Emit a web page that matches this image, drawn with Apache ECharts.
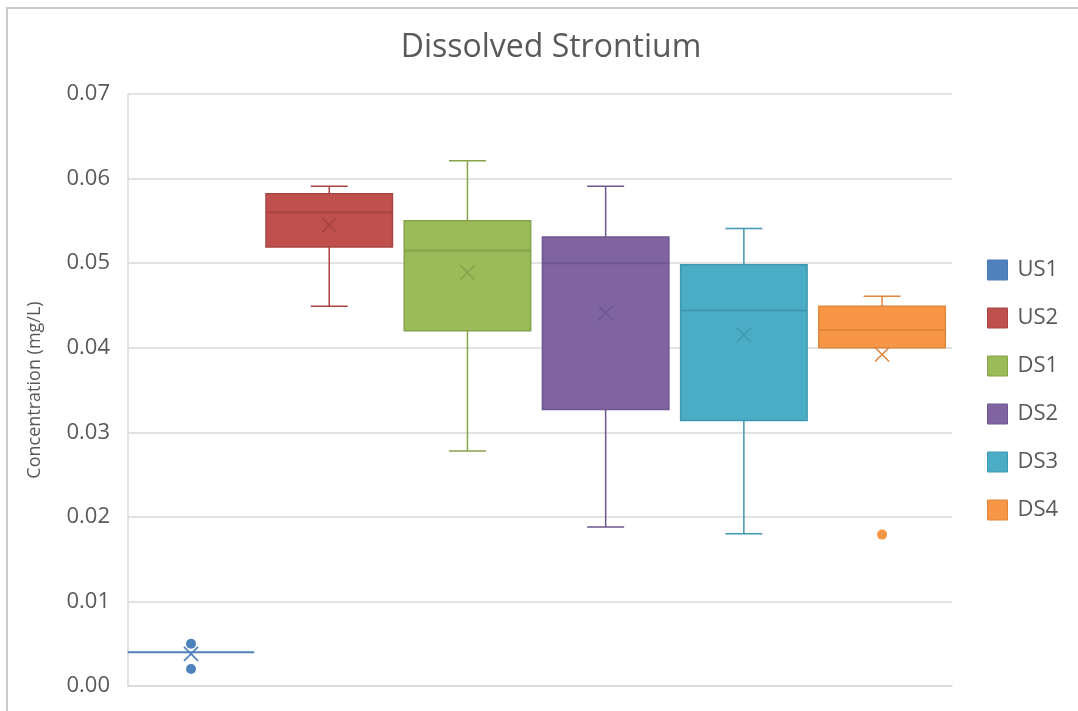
<!DOCTYPE html>
<html>
<head>
<meta charset="utf-8">
<script src="https://cdn.jsdelivr.net/npm/echarts@6/dist/echarts.min.js"></script>
<style>
html,body{margin:0;padding:0;background:#fff;}
#chart{width:1078px;height:711px;}
</style>
</head>
<body>
<div id="chart"></div>
<script>
// ---- data ----
const groups = ['US1', 'US2', 'DS1', 'DS2', 'DS3', 'DS4'];
const minVals    = [0.0040, 0.0449, 0.0278, 0.0188, 0.0180, 0.0400];
const q1Vals     = [0.0040, 0.0519, 0.0420, 0.0327, 0.0314, 0.0400];
const medianVals = [0.0040, 0.0560, 0.0515, 0.0500, 0.0444, 0.0421];
const q3Vals     = [0.0040, 0.0582, 0.0550, 0.0531, 0.0498, 0.0449];
const maxVals    = [0.0040, 0.0591, 0.0621, 0.0591, 0.0541, 0.0461];
const meanVals   = [0.0038, 0.0545, 0.0489, 0.0441, 0.0415, 0.0392];
const outlierGroup = [0, 0, 5];
const outlierVals  = [0.0050, 0.0020, 0.0179];
const yTicks = [0, 0.01, 0.02, 0.03, 0.04, 0.05, 0.06, 0.07];

// ---- styles ----
const fills   = ['#4F81BD', '#C0504D', '#9BBB59', '#8064A2', '#4BACC6', '#F79646'];
const strokes = ['#4A7AB5', '#A84542', '#86A24B', '#6E5690', '#3F98AF', '#E0853A'];
const textColor = '#595959';
const gridColor = '#D9D9D9';
const FONT = '"Open Sans", "Noto Sans", sans-serif';

function makeRender(idx) {
  return function (params, api) {
    const cat = api.value(0);
    const band = api.size([1, 0])[0];
    const bw = band * 0.915;
    const cap = 37;
    const x = api.coord([cat, 0])[0];
    const Y = v => api.coord([cat, v])[1];
    const mn = api.value(1), q1 = api.value(2), md = api.value(3),
          q3 = api.value(4), mx = api.value(5), mean = api.value(6);
    const st = strokes[idx];
    const lineStyle = { stroke: st, lineWidth: 1.5 };
    const children = [];
    if (mx > q3) {
      children.push({ type: 'line', shape: { x1: x, y1: Y(q3), x2: x, y2: Y(mx) }, style: lineStyle });
      children.push({ type: 'line', shape: { x1: x - cap / 2, y1: Y(mx), x2: x + cap / 2, y2: Y(mx) }, style: lineStyle });
    }
    if (mn < q1) {
      children.push({ type: 'line', shape: { x1: x, y1: Y(q1), x2: x, y2: Y(mn) }, style: lineStyle });
      children.push({ type: 'line', shape: { x1: x - cap / 2, y1: Y(mn), x2: x + cap / 2, y2: Y(mn) }, style: lineStyle });
    }
    if (q3 > q1) {
      children.push({ type: 'rect', shape: { x: x - bw / 2, y: Y(q3), width: bw, height: Y(q1) - Y(q3) },
        style: { fill: fills[idx], stroke: st, lineWidth: 1.5 } });
    }
    children.push({ type: 'line', shape: { x1: x - bw / 2, y1: Y(md), x2: x + bw / 2, y2: Y(md) },
      style: { stroke: q3 > q1 ? st : fills[idx], lineWidth: 2 } });
    const h = 7;
    const ym = Y(mean);
    const xs = { stroke: q3 > q1 ? st : fills[idx], lineWidth: 1.6 };
    children.push({ type: 'line', shape: { x1: x - h, y1: ym - h, x2: x + h, y2: ym + h }, style: xs });
    children.push({ type: 'line', shape: { x1: x - h, y1: ym + h, x2: x + h, y2: ym - h }, style: xs });
    return { type: 'group', children: children };
  };
}

const series = groups.map((g, i) => ({
  name: g,
  type: 'custom',
  itemStyle: { color: fills[i] },
  renderItem: makeRender(i),
  encode: { x: 0, y: [1, 2, 3, 4, 5, 6] },
  data: [[i, minVals[i], q1Vals[i], medianVals[i], q3Vals[i], maxVals[i], meanVals[i]]],
  z: 3
}));

series.push({
  name: 'Outliers',
  type: 'scatter',
  symbol: 'circle',
  symbolSize: 10,
  z: 4,
  data: outlierGroup.map((gi, k) => ({
    value: [gi, outlierVals[k]],
    itemStyle: { color: fills[gi], opacity: 1 }
  }))
});

const chart = echarts.init(document.getElementById('chart'), null, { renderer: 'canvas' });
chart.setOption({
  backgroundColor: '#fff',
  animation: false,
  title: {
    text: 'Dissolved Strontium',
    left: 546,
    textAlign: 'center',
    top: 27,
    textStyle: { fontFamily: FONT, fontSize: 32, fontWeight: 'normal', color: textColor }
  },
  graphic: [{
    type: 'rect',
    silent: true,
    shape: { x: 7, y: 8, width: 1200, height: 800 },
    style: { fill: null, stroke: '#CACACA', lineWidth: 2 },
    z: -1
  }],
  legend: {
    orient: 'vertical',
    left: 987,
    top: 259,
    padding: 0,
    itemWidth: 20,
    itemHeight: 20,
    itemGap: 26,
    selectedMode: false,
    textStyle: { fontFamily: FONT, fontSize: 22, color: textColor, padding: [0, 0, 0, 5] },
    data: groups.map((g, i) => ({
      name: g,
      icon: 'rect',
      itemStyle: { color: fills[i], borderColor: strokes[i], borderWidth: 1 }
    }))
  },
  grid: { left: 128, right: 126, top: 94, bottom: 25, containLabel: false },
  xAxis: {
    type: 'value',
    min: -0.456,
    max: 5.506,
    axisLabel: { show: false },
    axisTick: { show: false },
    axisLine: { onZero: false, lineStyle: { color: gridColor, width: 1.5 } },
    splitLine: { show: false }
  },
  yAxis: {
    type: 'value',
    min: yTicks[0],
    max: yTicks[yTicks.length - 1],
    interval: 0.01,
    name: 'Concentration (mg/L)',
    nameLocation: 'middle',
    nameGap: 84,
    nameTextStyle: { fontFamily: FONT, fontSize: 18, color: textColor },
    axisLine: { show: true, onZero: false, lineStyle: { color: gridColor, width: 1.5 } },
    axisTick: { show: false },
    axisLabel: {
      margin: 18,
      fontFamily: FONT,
      fontSize: 22,
      color: textColor,
      formatter: v => v.toFixed(2)
    },
    splitLine: { lineStyle: { color: gridColor, width: 1.5 } }
  },
  series: series
});
</script>
</body>
</html>
